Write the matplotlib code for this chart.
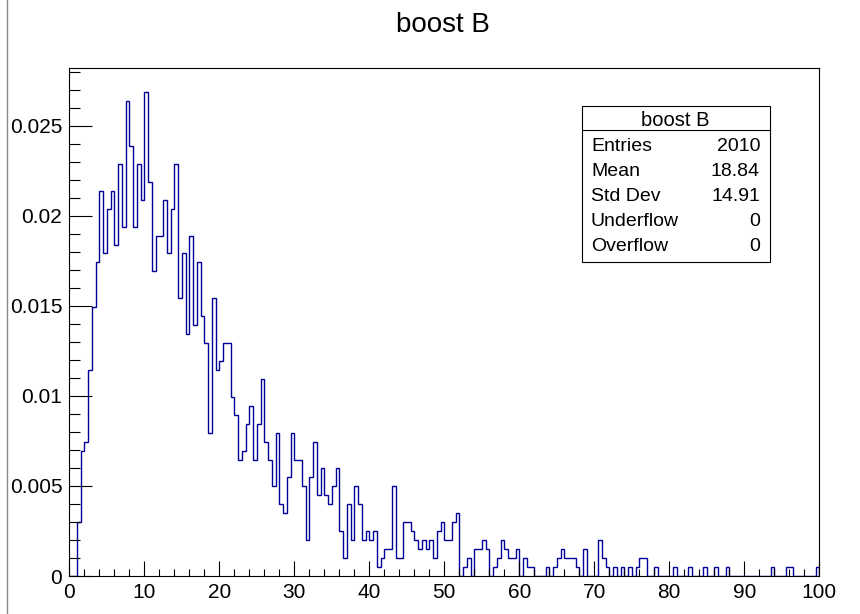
import matplotlib
matplotlib.use("Agg")
import matplotlib.pyplot as plt
import numpy as np
from matplotlib.patches import Rectangle
from matplotlib.lines import Line2D
from matplotlib.ticker import MultipleLocator

# histogram "boost B": 200 bins of width 0.5 on [0, 100], counts per bin
x_low, x_high = 0.0, 100.0
counts = [
    0, 0, 6, 14, 15, 23, 30, 35, 43, 36,
    41, 43, 37, 46, 39, 53, 48, 39, 46, 42,
    54, 44, 34, 38, 38, 42, 36, 41, 46, 31,
    36, 27, 38, 28, 35, 29, 26, 16, 31, 23,
    24, 26, 26, 20, 18, 13, 14, 17, 19, 13,
    17, 22, 15, 13, 10, 16, 8, 7, 11, 16,
    13, 13, 10, 4, 11, 15, 9, 12, 9, 8,
    10, 12, 5, 2, 8, 4, 10, 8, 4, 5,
    4, 5, 1, 2, 3, 3, 10, 2, 2, 6,
    6, 5, 4, 3, 4, 3, 4, 2, 5, 6,
    4, 4, 6, 7, 0, 1, 2, 0, 3, 3,
    4, 3, 0, 1, 2, 4, 3, 2, 2, 3,
    0, 2, 1, 1, 0, 0, 0, 1, 0, 1,
    2, 3, 2, 2, 2, 1, 0, 3, 0, 0,
    0, 4, 2, 1, 0, 1, 0, 1, 0, 1,
    0, 1, 2, 2, 0, 0, 1, 0, 0, 0,
    0, 1, 0, 0, 0, 1, 0, 0, 0, 1,
    0, 0, 1, 0, 0, 1, 0, 0, 0, 0,
    0, 0, 0, 0, 0, 0, 0, 1, 0, 0,
    0, 1, 1, 0, 0, 0, 0, 0, 0, 1,
]
entries = 2010

title = "boost B"
stats_labels = ["Entries", "Mean", "Std Dev", "Underflow", "Overflow"]
stats_values = ["2010", "18.84", "14.91", "0", "0"]

W, H = 860, 614
plt.rcParams["font.family"] = ["Liberation Sans", "DejaVu Sans"]


def fx(px):
    return px / W


def fy(py):
    return 1 - py / H


values = np.array(counts, dtype=float) / entries
edges = np.linspace(x_low, x_high, len(counts) + 1)

fig = plt.figure(figsize=(W / 100, H / 100), dpi=100)
fig.patch.set_facecolor("white")

# frame: x 69.3..819.3 px, y 68..576 px
ax = fig.add_axes([fx(69.3), fy(576), fx(819.3) - fx(69.3), fy(68) - fy(576)])
ax.stairs(values, edges, color="#000099", linewidth=1.0, baseline=0)
ax.set_xlim(x_low, x_high)
ax.set_ylim(0, 1.05 * values.max())

ax.xaxis.set_major_locator(MultipleLocator(10))
ax.xaxis.set_minor_locator(MultipleLocator(2))
ax.yaxis.set_major_locator(MultipleLocator(0.005))
ax.yaxis.set_minor_locator(MultipleLocator(0.001))
ax.set_yticks([0, 0.005, 0.01, 0.015, 0.02, 0.025])
ax.set_yticklabels(["0", "0.005", "0.01", "0.015", "0.02", "0.025"])
ax.set_xticks(np.arange(0, 101, 10))
ax.set_xticklabels([str(v) for v in range(0, 101, 10)])

ax.tick_params(axis="y", which="major", direction="in", length=16.2, width=0.8,
               labelsize=15, pad=5)
ax.tick_params(axis="y", which="minor", direction="in", length=8.1, width=0.8)
ax.tick_params(axis="x", which="major", direction="in", length=10.8, width=0.8,
               labelsize=15, pad=5)
ax.tick_params(axis="x", which="minor", direction="in", length=5.4, width=0.8)
for side in ax.spines.values():
    side.set_linewidth(0.8)

# title
fig.text(fx(443), fy(25), title, ha="center", va="center", fontsize=20)

# stats box
box_l, box_r, box_t, box_b = 581.5, 769.5, 106, 261.5
fig.patches.append(Rectangle((fx(box_l), fy(box_b)), fx(box_r) - fx(box_l),
                             fy(box_t) - fy(box_b), transform=fig.transFigure,
                             facecolor="white", edgecolor="black", linewidth=0.8))
fig.lines.append(Line2D([fx(box_l), fx(box_r)], [fy(130), fy(130)],
                        transform=fig.transFigure, color="black", linewidth=0.8))
fig.text(fx((box_l + box_r) / 2), fy(120), title, ha="center", va="center",
         fontsize=14.5)
for i, (lab, val) in enumerate(zip(stats_labels, stats_values)):
    yy = fy(146.5 + 25 * i)
    fig.text(fx(591), yy, lab, ha="left", va="center", fontsize=14)
    fig.text(fx(760), yy, val, ha="right", va="center", fontsize=14)

# canvas border
fig.lines.append(Line2D([fx(7), fx(7)], [0, 1], transform=fig.transFigure,
                        color="#888888", linewidth=1.0))

fig.savefig("out.png", dpi=100)
